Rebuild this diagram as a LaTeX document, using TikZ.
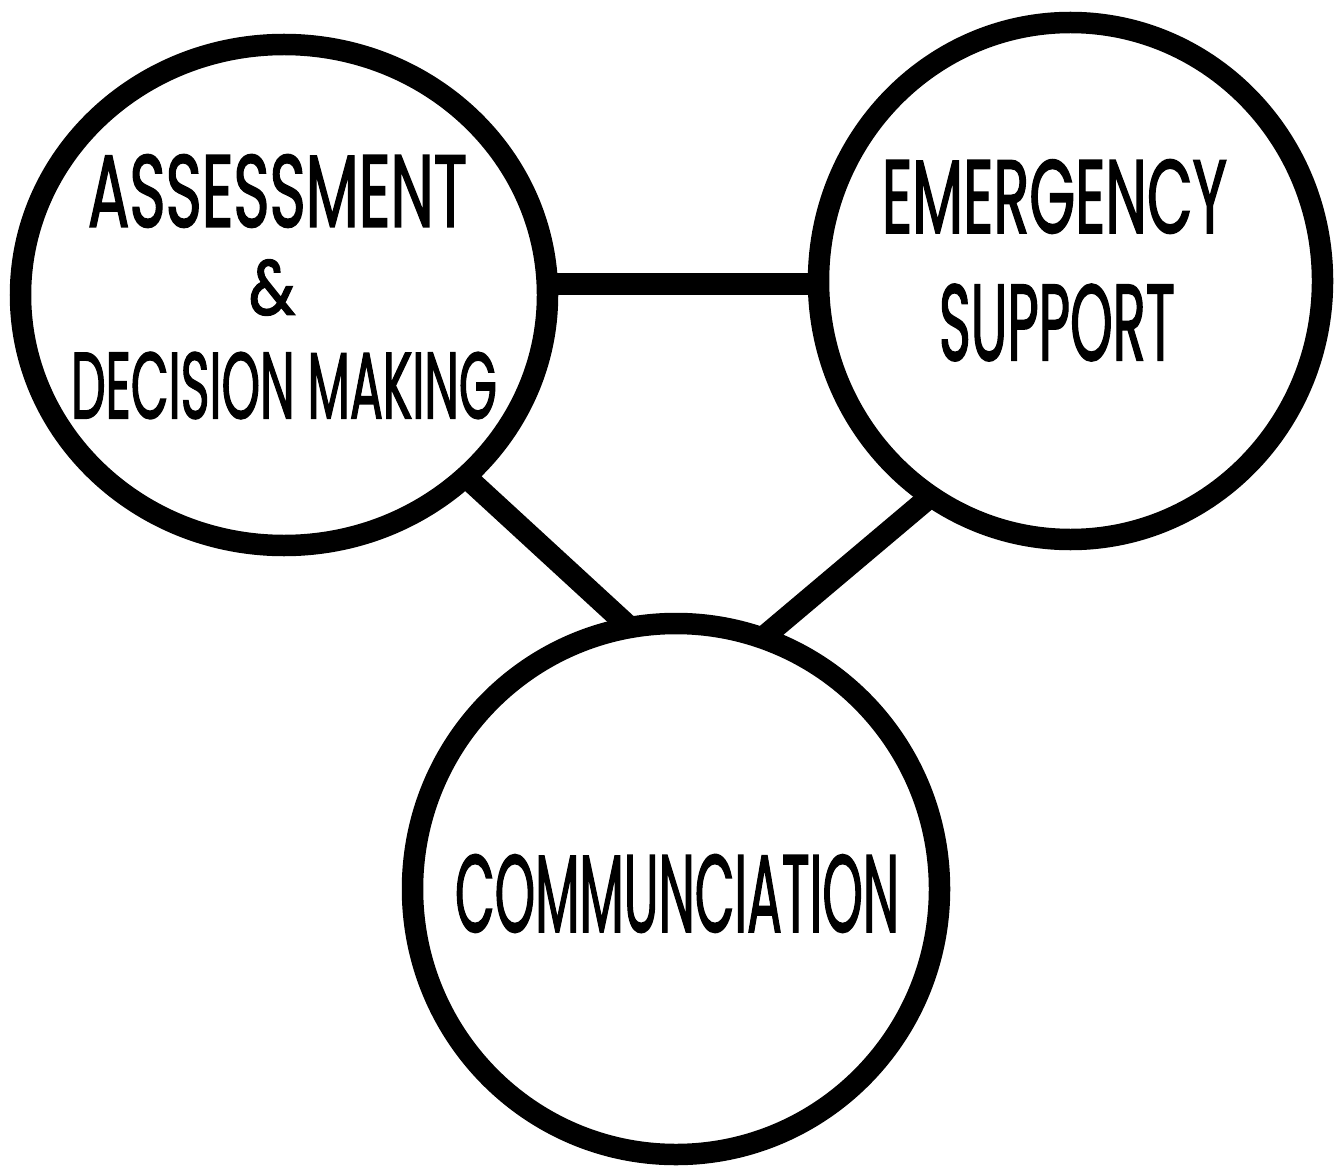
\documentclass[tikz,border=0pt]{standalone}
\usepackage{fontspec}
\usepackage{graphicx}
\newfontfamily\lblfont{Poppins}[FakeBold=2]
\usetikzlibrary{shapes.geometric}
\pgfdeclarelayer{bg}
\pgfsetlayers{bg,main}
\tikzset{
  ring/.style={draw=black, line width=21.5pt, ellipse, inner sep=0pt, outer sep=0pt, fill=white},
  link/.style={draw=black, line width=22pt},
  lbl/.style={inner sep=0pt, outer sep=0pt, text=black}
}
\newcommand{\fitlbl}[3]{\resizebox{#1pt}{#2pt}{\lblfont #3}}
\begin{document}
\begin{tikzpicture}[x=1pt,y=-1pt]
\useasboundingbox (0,0) rectangle (1335,1166);
\coordinate (H) at (0,284);
\node[ring, minimum width=527pt, minimum height=501pt] (A) at (284,295) {};
\node[ring, minimum width=504pt, minimum height=517pt] (E) at (1070.5,281) {};
\node[ring, minimum width=527pt, minimum height=531pt] (C) at (676,889) {};
\begin{pgfonlayer}{bg}
\fill[white] (0,0) rectangle (1335,1166);
\draw[link] (A.east |- H) -- (E.west |- H);
\draw[link] (A.-45.9) -- (C.100.5);
\draw[link] (E.-123.5) -- (C.71.2);
\end{pgfonlayer}
% labels
\node[lbl] (t1) at (277.5,191) {\fitlbl{379}{72}{ASSESSMENT}};
\node[lbl] (t2) at (272,287.5) {\fitlbl{46}{55}{\&}};
\node[lbl] (t3) at (284,385.5) {\fitlbl{426}{66}{DECISION MAKING}};
\node[lbl] (t4) at (1054.5,196.5) {\fitlbl{345}{73}{EMERGENCY}};
\node[lbl] (t5) at (1057,322.5) {\fitlbl{236}{76}{SUPPORT}};
\node[lbl] (t6) at (677,893.5) {\fitlbl{444}{77}{COMMUNCIATION}};
\end{tikzpicture}
\end{document}
